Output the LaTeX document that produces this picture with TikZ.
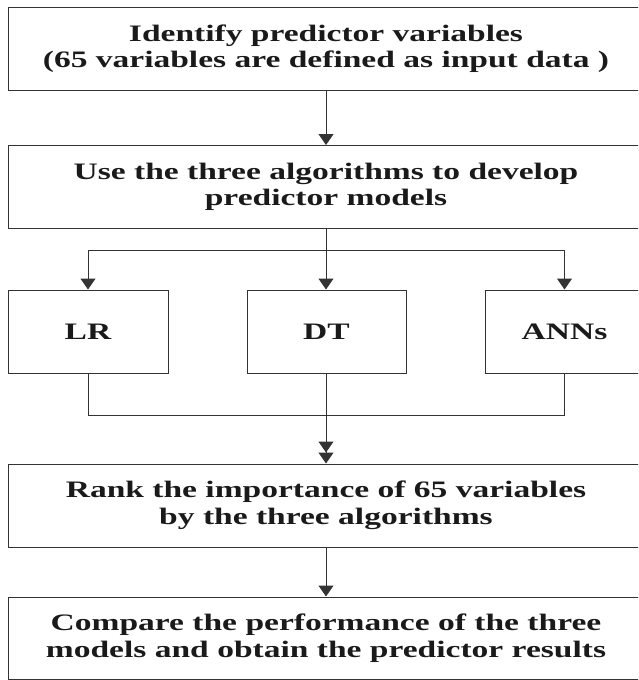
\documentclass[tikz,border=0pt]{standalone}
\usepackage{fontspec}
\setmainfont{Liberation Serif}[FakeStretch=1.42]
\usetikzlibrary{arrows.meta}
\definecolor{ln}{HTML}{333333}
\definecolor{tx}{HTML}{1A1A1A}
\tikzset{
  box/.style={draw=ln, line width=1pt, rectangle, align=center, inner sep=0pt,
    text=tx, font=\fontsize{23.6}{26.5}\selectfont\bfseries},
  wide/.style={box, minimum width=636pt, minimum height=83pt},
  small/.style={box, minimum width=160pt, minimum height=83pt},
  conn/.style={draw=ln, line width=1pt},
  arr/.style={conn, -{Triangle[width=15pt,length=11pt]}},
  arrtwo/.style={conn, -{Triangle[width=15pt,length=11pt]Triangle[width=15pt,length=11pt]}}
}
\begin{document}
\begin{tikzpicture}[x=1pt,y=-1pt]
\useasboundingbox (0,0) rectangle (638,680);
\clip (0,0) rectangle (638,680);
\node[wide] (b1) at (326,48.5) {Identify predictor variables\\(65 variables are defined as input data )};
\node[wide] (b2) at (326,187) {Use the three algorithms to develop\\predictor models};
\node[small] (lr) at (88,331.5) {LR};
\node[small, minimum width=159pt] (dt) at (326.5,331.5) {DT};
\node[small, minimum width=159pt] (ann) at (564.5,331.5) {ANNs};
\node[wide] (b4) at (326,505.5) {Rank the importance of 65 variables\\by the three algorithms};
\node[wide, minimum height=82pt] (b5) at (326,638) {Compare the performance of the three\\models and obtain the predictor results};
\coordinate (split) at (326,250);
\coordinate (merge) at (326,415);
\draw[arr] (b1.south) -- (b2.north);
\draw[conn] (b2.south) -- (split);
\draw[arr] (split) -| (lr.north);
\draw[arr] (split) -| (ann.north);
\draw[arr] (split) -- (dt.north -| split);
\draw[conn] (lr.south) |- (merge);
\draw[conn] (ann.south) |- (merge);
\draw[conn] (dt.south -| merge) -- (merge);
\draw[arrtwo] (merge) -- (b4.north);
\draw[arr] (b4.south) -- (b5.north);
\end{tikzpicture}
\end{document}
